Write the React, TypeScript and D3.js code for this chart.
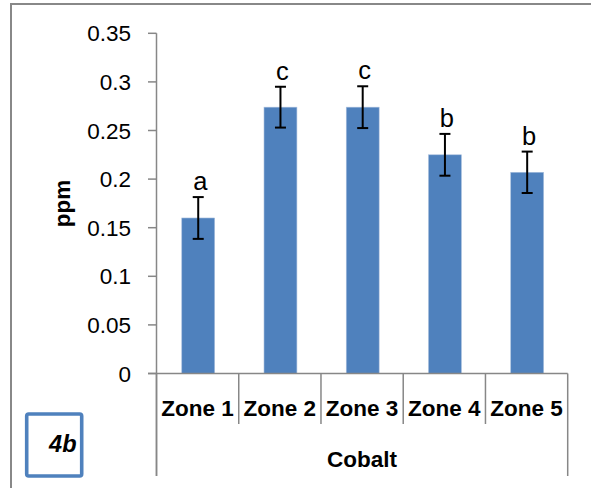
import React from "react";
import * as d3 from "d3";

const categories = ["Zone 1", "Zone 2", "Zone 3", "Zone 4", "Zone 5"];
const values = [0.160, 0.274, 0.274, 0.225, 0.207];
const errors = [0.0215, 0.021, 0.0215, 0.0215, 0.0213];
const letters = ["a", "c", "c", "b", "b"];
const yTicks = [0, 0.05, 0.1, 0.15, 0.2, 0.25, 0.3, 0.35];
const yTickLabels = ["0", "0.05", "0.1", "0.15", "0.2", "0.25", "0.3", "0.35"];
const groupLabel = "Cobalt";
const yLabel = "ppm";
const panelLabel = "4b";

const W = 591;
const H = 488;
const left = 156.5;
const right = 567.7;
const top = 33.3;
const bottom = 373.5;
const font = "'Liberation Sans', Arial, sans-serif";
const axisColor = "#878787";
const barColor = "#4F81BD";

export default function App() {
  const x = d3.scaleBand<string>().domain(categories).range([left, right]).paddingInner(0).paddingOuter(0);
  const y = d3.scaleLinear().domain([0, 0.35]).range([bottom, top]);
  const bw = x.bandwidth() * 0.4;
  const dividers = categories.map((c) => x(c)!).concat([right]);

  return (
    <svg width={W} height={H} style={{ position: "absolute", left: 0, top: 0, background: "#fff" }} fontFamily={font}>
      <rect x={0} y={0} width={W} height={H} fill="#fff" />
      {/* outer frame */}
      <path d={`M11,${H + 10} L11,4 L${W + 10},4`} fill="none" stroke="#888" strokeWidth={2} />
      {/* y ticks */}
      {yTicks.map((t, i) => (
        <g key={i}>
          <line x1={148} x2={left} y1={y(t)} y2={y(t)} stroke={axisColor} strokeWidth={1.5} />
          <text x={131} y={y(t)} dy="0.36em" textAnchor="end" fontSize={22.5} fill="#000">
            {yTickLabels[i]}
          </text>
        </g>
      ))}
      {/* bars */}
      {categories.map((c, i) => {
        const cx = x(c)! + x.bandwidth() / 2 + 0.6;
        return (
          <g key={c}>
            <rect x={cx - bw / 2} y={y(values[i])} width={bw} height={bottom - y(values[i])} fill={barColor} stroke="#a7bedd" strokeWidth={0.6} />
            <line x1={cx} x2={cx} y1={y(values[i] + errors[i])} y2={y(values[i] - errors[i])} stroke="#000" strokeWidth={2} />
            <line x1={cx - 5.5} x2={cx + 5.5} y1={y(values[i] + errors[i])} y2={y(values[i] + errors[i])} stroke="#000" strokeWidth={2} />
            <line x1={cx - 5.5} x2={cx + 5.5} y1={y(values[i] - errors[i])} y2={y(values[i] - errors[i])} stroke="#000" strokeWidth={2} />
            <text x={cx + 2} y={y(values[i] + errors[i]) - 7} textAnchor="middle" fontSize={25.5} fill="#000">
              {letters[i]}
            </text>
            <text x={x(c)! + x.bandwidth() / 2} y={415.7} textAnchor="middle" fontSize={22.5} fontWeight="bold" fill="#000">
              {c}
            </text>
          </g>
        );
      })}
      {/* axes */}
      <line x1={left} x2={left} y1={top} y2={476} stroke={axisColor} strokeWidth={1.5} />
      <line x1={148} x2={right} y1={bottom} y2={bottom} stroke={axisColor} strokeWidth={1.5} />
      {dividers.map((d, i) => (
        <line key={i} x1={d} x2={d} y1={bottom} y2={i === 0 || i === dividers.length - 1 ? 476 : 424} stroke={axisColor} strokeWidth={1.5} />
      ))}
      <text x={(left + right) / 2} y={466.7} textAnchor="middle" fontSize={22.5} fontWeight="bold" fill="#000">
        {groupLabel}
      </text>
      <text transform={`translate(69.5,${(top + bottom) / 2}) rotate(-90)`} textAnchor="middle" fontSize={22.5} fontWeight="bold" fill="#000">
        {yLabel}
      </text>
      {/* panel label box */}
      <rect x={26.7} y={414} width={55} height={62} rx={2} fill="#fff" stroke={barColor} strokeWidth={3.6} />
      <text x={76.5} y={451.7} textAnchor="end" fontSize={23.5} fontWeight="bold" fontStyle="italic" fill="#000">
        {panelLabel}
      </text>
    </svg>
  );
}
